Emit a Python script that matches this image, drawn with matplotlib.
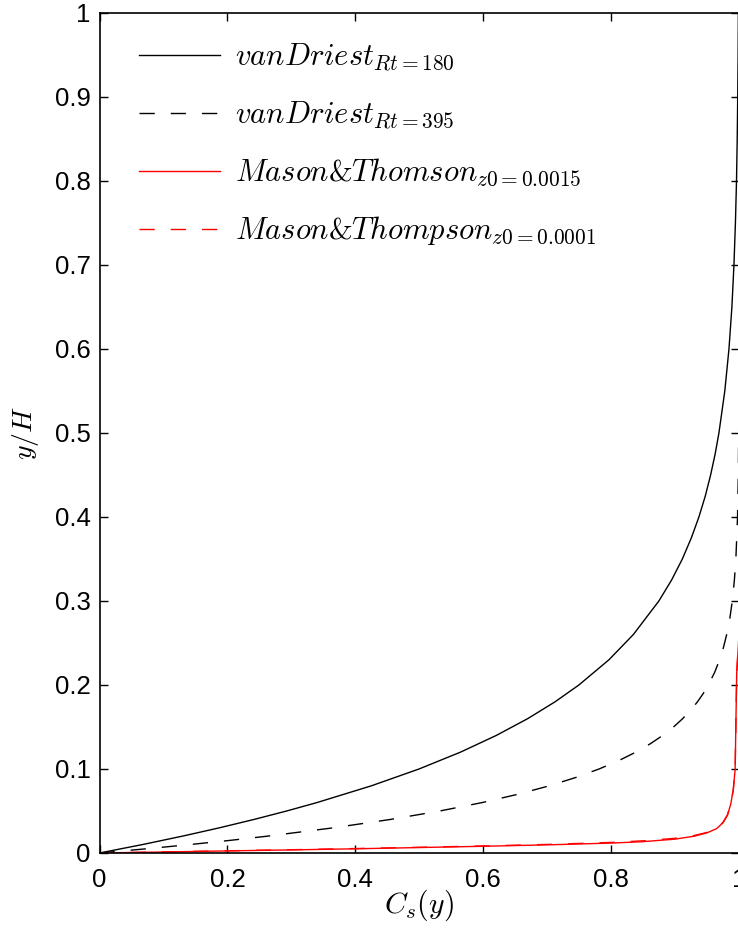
import matplotlib
matplotlib.use("Agg")
import matplotlib.pyplot as plt

# ---- data ----
y_vd180 = [0, 0.01, 0.02, 0.03, 0.04, 0.05, 0.06, 0.08, 0.10, 0.12, 0.14, 0.16, 0.18,
           0.20, 0.23, 0.26, 0.30, 0.325, 0.35, 0.375, 0.40, 0.425, 0.45, 0.475, 0.50,
           0.55, 0.60, 0.65, 0.70, 0.75, 0.80, 0.85, 0.90, 0.95, 1.00]
cs_vd180 = [0, 0.0669, 0.1293, 0.1876, 0.2419, 0.2926, 0.3399, 0.4252, 0.4996, 0.5643,
            0.6206, 0.6697, 0.7124, 0.7496, 0.7966, 0.8347, 0.8747, 0.8946, 0.9114,
            0.9254, 0.9373, 0.9473, 0.9556, 0.9627, 0.9686, 0.9778, 0.9843, 0.9889,
            0.9921, 0.9944, 0.9961, 0.9972, 0.9980, 0.9986, 0.9990]

y_vd395 = [0, 0.005, 0.01, 0.015, 0.02, 0.03, 0.04, 0.05, 0.06, 0.07, 0.08, 0.09, 0.10,
           0.11, 0.12, 0.13, 0.14, 0.15, 0.16, 0.17, 0.18, 0.19, 0.20, 0.215, 0.23,
           0.245, 0.26, 0.28, 0.30, 0.325, 0.35, 0.40, 0.45, 0.50, 0.60, 0.80, 1.00]
cs_vd395 = [0, 0.0732, 0.1409, 0.2038, 0.2620, 0.3660, 0.4554, 0.5321, 0.5981, 0.6547,
            0.7034, 0.7452, 0.7811, 0.8120, 0.8385, 0.8612, 0.8808, 0.8976, 0.9120,
            0.9244, 0.9351, 0.9442, 0.9521, 0.9619, 0.9696, 0.9758, 0.9807, 0.9858,
            0.9895, 0.9928, 0.9951, 0.9977, 0.9989, 0.9995, 0.9999, 1.0, 1.0]

cs_mt15 = [0.0, 0.1, 0.2, 0.3, 0.4, 0.5, 0.6, 0.7, 0.8, 0.85, 0.9, 0.93, 0.95, 0.965,
           0.975, 0.982, 0.987, 0.991, 0.994, 0.9964, 1.0, 1.0]
y_mt15 = [0.0, 0.0012, 0.0025, 0.0037, 0.005, 0.0065, 0.008, 0.0097, 0.0118, 0.0135,
          0.0165, 0.020, 0.024, 0.029, 0.036, 0.045, 0.058, 0.075, 0.10, 0.214, 0.26,
          1.0]

cs_mt01 = [0.0, 0.1, 0.2, 0.3, 0.4, 0.5, 0.6, 0.7, 0.8, 0.85, 0.9, 0.93, 0.95, 0.965,
           0.975, 0.982, 0.987, 0.991, 0.994, 0.9964, 1.0, 1.0]
y_mt01 = [0.0, 0.0013, 0.0026, 0.0039, 0.0053, 0.0068, 0.0084, 0.0102, 0.0126, 0.0145,
          0.0175, 0.0208, 0.0245, 0.0295, 0.0365, 0.0455, 0.058, 0.075, 0.10, 0.214,
          0.26, 1.0]

labels = [r"$vanDriest_{Rt=180}$", r"$vanDriest_{Rt=395}$",
          r"$Mason$&$Thomson_{z0=0.0015}$", r"$Mason$&$Thompson_{z0=0.0001}$"]
xticks = [0, 0.2, 0.4, 0.6, 0.8, 1]
xticklabels = ["0", "0.2", "0.4", "0.6", "0.8", "1"]
yticks = [0, 0.1, 0.2, 0.3, 0.4, 0.5, 0.6, 0.7, 0.8, 0.9, 1]
yticklabels = ["0", "0.1", "0.2", "0.3", "0.4", "0.5", "0.6", "0.7", "0.8", "0.9", "1"]

plt.rcParams['font.family'] = ['Liberation Sans', 'DejaVu Sans']
plt.rcParams['mathtext.fontset'] = 'cm'

fig = plt.figure(figsize=(7.38, 9.32), dpi=100)
ax = fig.add_axes([99.5 / 738, 79 / 932, 639.5 / 738, 840 / 932])

dash = (0, (11, 11.5))
ax.plot(cs_vd180, y_vd180, color='black', lw=1.0, label=labels[0])
ax.plot(cs_vd395, y_vd395, color='black', lw=1.0, linestyle=dash, label=labels[1])
ax.plot(cs_mt15, y_mt15, color='red', lw=1.0, label=labels[2])
ax.plot(cs_mt01, y_mt01, color='red', lw=1.0, linestyle=dash, label=labels[3])

ax.set_xlim(0, 1)
ax.set_ylim(0, 1)
ax.set_xticks(xticks)
ax.set_xticklabels(xticklabels)
ax.set_yticks(yticks)
ax.set_yticklabels(yticklabels)
ax.tick_params(direction='in', length=5.5, width=1.0, top=True, right=True,
               labelsize=18.5, colors='black')
ax.tick_params(axis='x', pad=11)
ax.tick_params(axis='y', pad=6.5)
for s in ax.spines.values():
    s.set_linewidth(1.2)

ax.set_xlabel(r"$C_s(y)$", fontsize=21.5)
ax.set_ylabel(r"$y/H$", fontsize=20)
ax.xaxis.set_label_coords(0.5, -0.041)
ax.yaxis.set_label_coords(-0.091, 0.5)

ax.legend(loc='upper left', bbox_to_anchor=(0.062, 0.9655), frameon=False,
          prop={'family': 'cmr10', 'size': 22},
          handlelength=2.65, handletextpad=0.49, labelspacing=0.85,
          borderaxespad=0, borderpad=0)

fig.savefig("out.png", dpi=100)
